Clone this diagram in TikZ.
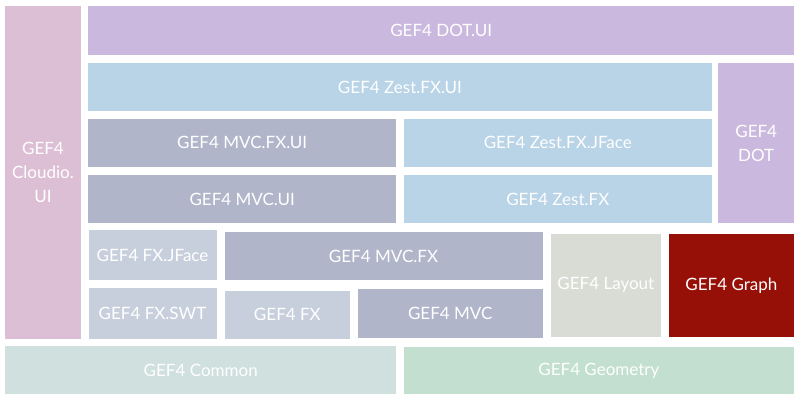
\documentclass[tikz,border=0pt]{standalone}
\usepackage{fontspec}
\setmainfont{Lato}
\usetikzlibrary{positioning}

\definecolor{cloudio}{HTML}{DDBFD5}
\definecolor{dot}{HTML}{CBB8DE}
\definecolor{zest}{HTML}{B9D3E7}
\definecolor{mvc}{HTML}{B0B5CA}
\definecolor{fx}{HTML}{C8CFDC}
\definecolor{layout}{HTML}{D8DCD5}
\definecolor{graph}{HTML}{971008}
\definecolor{common}{HTML}{CFE0DE}
\definecolor{geometry}{HTML}{C2DFCF}

\tikzset{
  pkg/.style={anchor=north west, inner sep=0pt, text=white, align=center,
    font=\fontsize{17}{24}\selectfont}
}

\begin{document}
\begin{tikzpicture}[x=1pt,y=-1pt]
      \useasboundingbox (0,0) rectangle (800,402);
      \fill[white] (0,0) rectangle (800,402);
      % left column
      \node[pkg, fill=cloudio, minimum width=75.5pt, minimum height=332.5pt] (cloudio) at (5,6) {GEF4\\Cloudio.\\UI};
      % ui layer
      \node[pkg, fill=dot, minimum width=706pt, minimum height=48.5pt] (dotui) at (88,6) {GEF4 DOT.UI};
      \node[pkg, fill=zest, minimum width=623.5pt, minimum height=47.5pt] (zestfxui) at (88,63) {GEF4 Zest.FX.UI};
      \node[pkg, fill=dot, minimum width=76pt, minimum height=160pt] (dot) at (718,63) {GEF4\\DOT};
      % mvc and zest
      \node[pkg, fill=mvc, minimum width=308pt, minimum height=48pt] (mvcfxui) at (88,118.5) {GEF4 MVC.FX.UI};
      \node[pkg, fill=mvc, minimum width=308pt, minimum height=48pt] (mvcui) at (88,175) {GEF4 MVC.UI};
      \node[pkg, fill=zest, minimum width=308.5pt, minimum height=48pt] (zestfxjface) at (403.3,118.5) {GEF4 Zest.FX.JFace};
      \node[pkg, fill=zest, minimum width=308.5pt, minimum height=48pt] (zestfx) at (403.3,175) {GEF4 Zest.FX};
      % fx
      \node[pkg, fill=fx, minimum width=128pt, minimum height=50pt] (fxjface) at (88.3,230) {GEF4 FX.JFace};
      \node[pkg, fill=fx, minimum width=128pt, minimum height=50.5pt] (fxswt) at (88.3,288) {GEF4 FX.SWT};
      \node[pkg, fill=mvc, minimum width=318pt, minimum height=48pt] (mvcfx) at (224.3,232) {GEF4 MVC.FX};
      \node[pkg, fill=fx, minimum width=125.7pt, minimum height=48pt] (fx) at (224.3,290.3) {GEF4 FX};
      \node[pkg, fill=mvc, minimum width=184.6pt, minimum height=48.3pt] (mvc) at (357.7,289) {GEF4 MVC};
      % layout and graph
      \node[pkg, fill=layout, minimum width=110.7pt, minimum height=103.4pt] (layout) at (550.3,233.3) {GEF4 Layout};
      \node[pkg, fill=graph, minimum width=125.7pt, minimum height=103.4pt] (graph) at (668.3,233.3) {GEF4 Graph};
      % base
      \node[pkg, fill=common, minimum width=391pt, minimum height=48pt] (common) at (5,346) {GEF4 Common};
      \node[pkg, fill=geometry, minimum width=390.7pt, minimum height=47.3pt] (geometry) at (403.3,346.7) {GEF4 Geometry};
\end{tikzpicture}
\end{document}
